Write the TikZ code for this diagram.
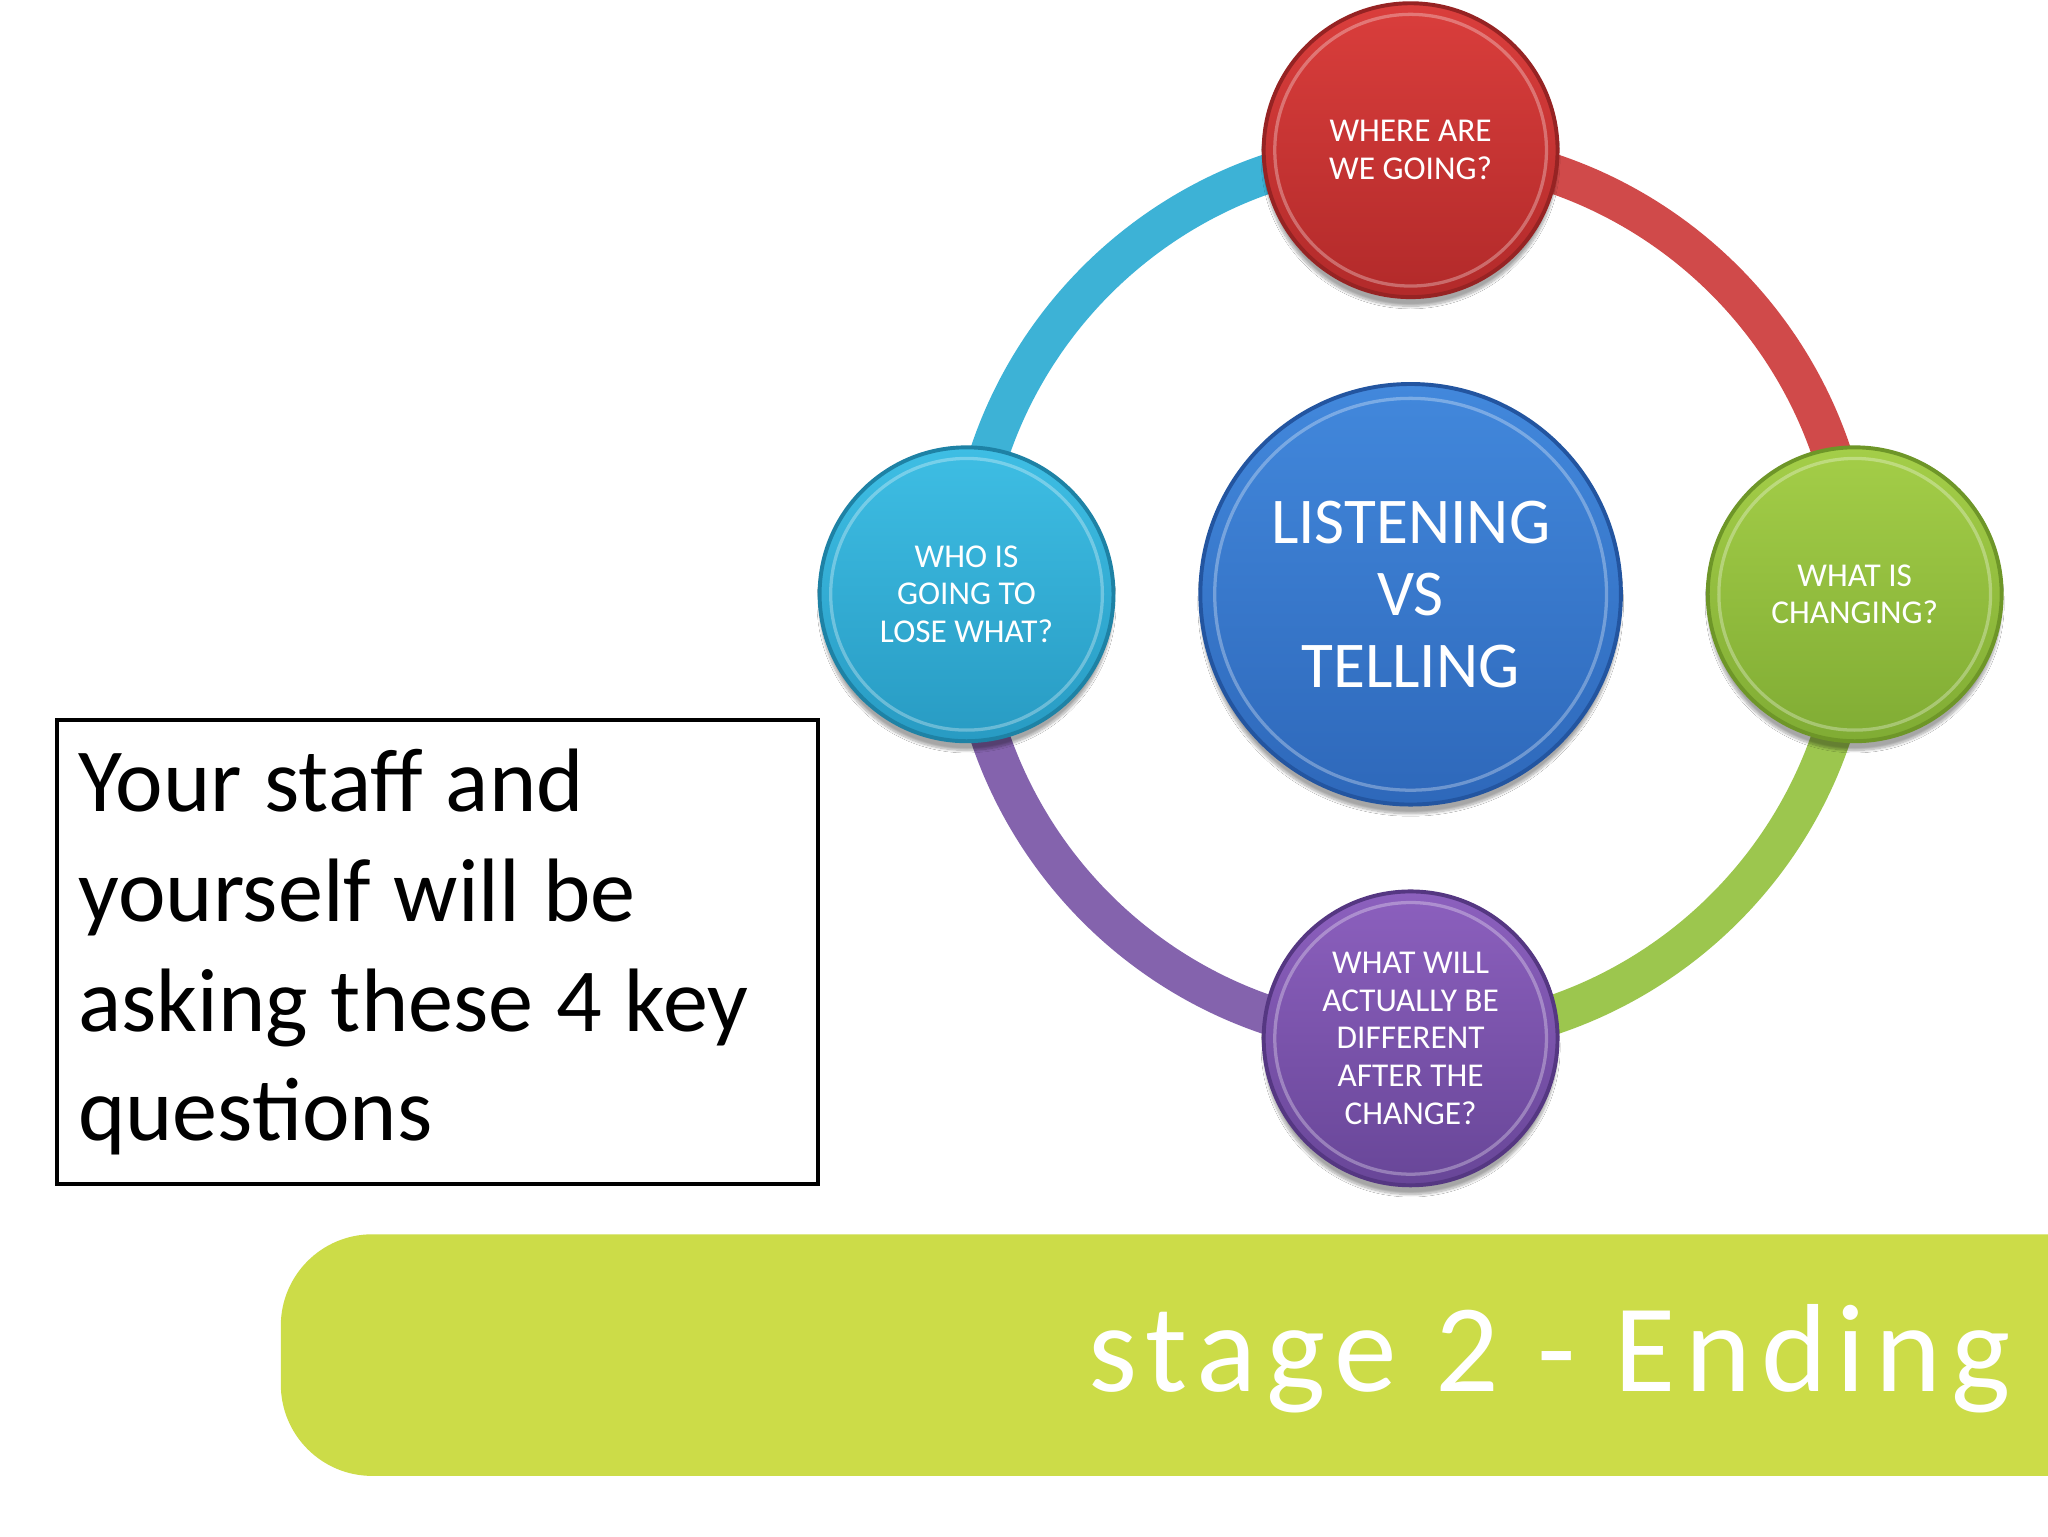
\documentclass[tikz,border=0pt]{standalone}
\usepackage{fontspec}
\setmainfont{Carlito}
\newfontfamily\bannerfont[LetterSpace=8]{Carlito}
\usetikzlibrary{shadows.blur}
\definecolor{ringcyan}{HTML}{3DB2D6}
\definecolor{ringred}{HTML}{D04A4A}
\definecolor{ringgreen}{HTML}{9CC64E}
\definecolor{ringpurple}{HTML}{8463AD}
\definecolor{bannergreen}{HTML}{CCDC48}
\tikzset{
  x=1pt, y=1pt,
  ringarc/.style={line width=30pt, line cap=butt},
  bubble/.style={circle, minimum size=225pt, inner sep=0pt, text=white, align=center,
    font=\fontsize{25.5}{29}\selectfont, line width=3pt,
    blur shadow={shadow xshift=0pt, shadow yshift=-7pt, shadow blur steps=12, shadow opacity=35}},
  hilite/.style={white, opacity=0.3, line width=2.5pt},
}
\begin{document}
\begin{tikzpicture}
\useasboundingbox[fill=white] (0,0) rectangle (1568,1176);
% ring
\coordinate (ringc) at (1080,721);
\draw[ringarc, ringred]    (1080,1061) arc[start angle=90,  end angle=0,   radius=340];
\draw[ringarc, ringcyan]   (1080,1061) arc[start angle=90,  end angle=180, radius=340];
\draw[ringarc, ringpurple] (740,721)   arc[start angle=180, end angle=270, radius=340];
\draw[ringarc, ringgreen]  (1420,721)  arc[start angle=0,   end angle=-90, radius=340];
% bubbles
\node[bubble, draw={rgb,255:red,150;green,35;blue,35}, top color={rgb,255:red,218;green,62;blue,60}, bottom color={rgb,255:red,178;green,42;blue,42}] (top) at (1080,1061) {WHERE ARE\\WE GOING?};
\node[bubble, draw={rgb,255:red,30;green,130;blue,165}, top color={rgb,255:red,62;green,190;blue,228}, bottom color={rgb,255:red,40;green,155;blue,195}] (left) at (740,721) {WHO IS\\GOING TO\\LOSE WHAT?};
\node[bubble, draw={rgb,255:red,110;green,150;blue,40}, top color={rgb,255:red,164;green,206;blue,72}, bottom color={rgb,255:red,128;green,172;blue,52}] (right) at (1420,721) {WHAT IS\\CHANGING?};
\node[bubble, draw={rgb,255:red,85;green,55;blue,130}, top color={rgb,255:red,140;green,96;blue,190}, bottom color={rgb,255:red,104;green,70;blue,152}] (bottom) at (1080,381) {WHAT WILL\\ACTUALLY BE\\DIFFERENT\\AFTER THE\\CHANGE?};
\node[bubble, minimum size=322pt, font=\fontsize{50}{55}\selectfont, draw={rgb,255:red,35;green,85;blue,160}, top color={rgb,255:red,66;green,136;blue,220}, bottom color={rgb,255:red,46;green,104;blue,186}] (center) at (1080,721) {LISTENING\\VS\\TELLING};
\foreach \n/\r in {top/104, left/104, right/104, bottom/104, center/150}
  \draw[hilite] (\n.center) circle (\r);
% text box
\node[draw=black, line width=3pt, minimum width=583pt, minimum height=355pt, inner sep=0pt,
      text width=550pt, align=left, font=\fontsize{69}{84}\selectfont, anchor=north west]
  (box) at (42,626) {\spaceskip=17.5pt\relax Your staff and\\yourself will be\\asking these 4 key\\questions};
% banner
\fill[bannergreen] (1568,231) -- (285,231) arc[start angle=90, end angle=180, radius=70]
  -- (215,116) arc[start angle=180, end angle=270, radius=70] -- (1568,46) -- cycle;
\node[anchor=base west, inner sep=0pt, text=white, font=\bannerfont\fontsize{96}{100}\selectfont] (banner) at (833,111) {stage 2 - Ending};
\end{tikzpicture}
\end{document}
